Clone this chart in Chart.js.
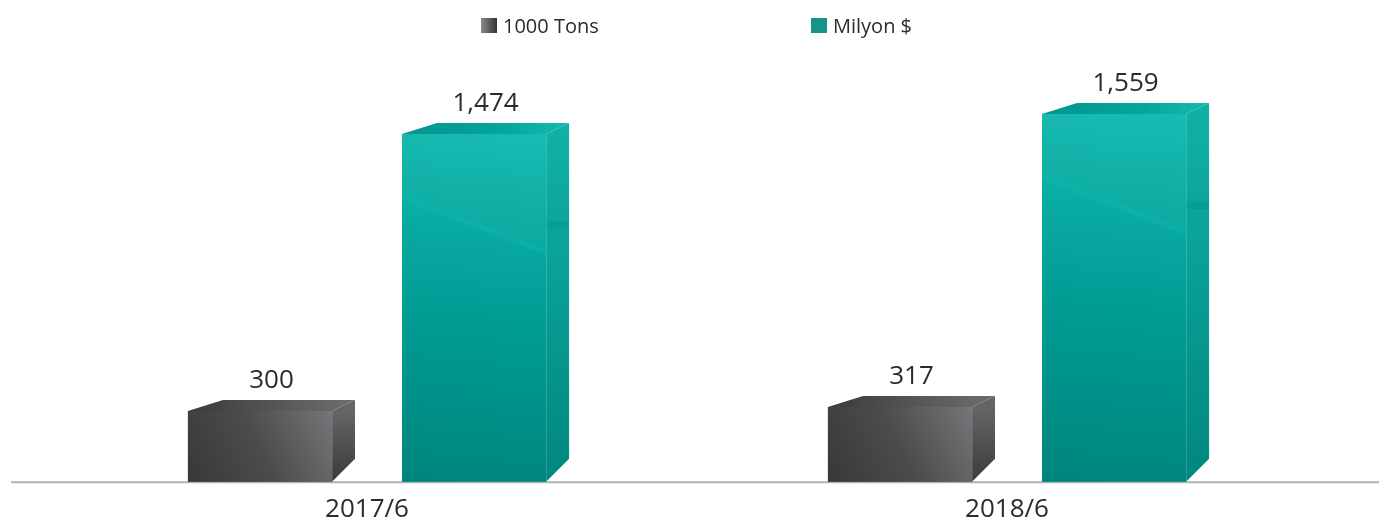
<!DOCTYPE html>
<html>
<head>
<meta charset="utf-8">
<script src="https://cdn.jsdelivr.net/npm/chart.js@4.4.1/dist/chart.umd.min.js"></script>
<style>
  html, body { margin: 0; padding: 0; background: #fff; }
</style>
</head>
<body>
<canvas id="exportChart" width="1379" height="521"></canvas>
<script>
// data
const periods = ["2017/6", "2018/6"];
const seriesLabels = ["1000 Tons", "Milyon $"];
const tonsValues = [300, 317];
const usdValues = [1474, 1559];

// look of each box: front, top and side faces
const palettes = [
  {
    base: "#4a4a4c",
    front: ["#383838", "#4c4c4d", "#76767a"],
    top: ["#3a3a3a", "#5a5a5b", "#6e6e70"],
    side: ["#656567", "#3b3b3b"],
    legend: ["#8a8a8a", "#333333"],
    sheen: false
  },
  {
    base: "#0aa59c",
    front: ["#00857e", "#009d95", "#13b8af"],
    top: ["#00958d", "#05a59c", "#16b9b0"],
    side: ["#10b0a7", "#00877f"],
    legend: ["#16938a", "#16938a"],
    sheen: true
  }
];

const DEPTH_X = 23;      // how far back the box goes to the right
const DEPTH_Y = 11;      // how far up the back edge of the top face sits
const BACK_LEFT = 35;    // left back corner of the top face
const SIDE_DROP = 23;    // bottom of the side face rises by this much
const FONT = "'Open Sans', 'Noto Sans', sans-serif";
const TEXT_COLOR = "#2b2b2b";

// baseline across the whole width, under the boxes
const baseLine = {
  id: "baseLine",
  beforeDatasetsDraw(chart) {
    const c = chart.ctx;
    const y0 = chart.scales.y.getPixelForValue(0);
    c.save();
    c.strokeStyle = "#b2b2b2";
    c.lineWidth = 2;
    c.beginPath();
    c.moveTo(11, y0 + 0.5);
    c.lineTo(chart.width, y0 + 0.5);
    c.stroke();
    c.restore();
  }
};

// turns each bar into a box and writes its value above
const boxBars = {
  id: "boxBars",
  afterDatasetsDraw(chart) {
    const c = chart.ctx;
    chart.data.datasets.forEach((ds, di) => {
      const pal = palettes[di];
      chart.getDatasetMeta(di).data.forEach((bar, i) => {
        const { x, y, base, width } = bar.getProps(["x", "y", "base", "width"], true);
        const L = x - width / 2;
        const R = x + width / 2;
        const h = base - y;
        c.save();

        // front face
        let g = c.createLinearGradient(L, base, L + width * (pal.sheen ? 0.25 : 1), y);
        g.addColorStop(0, pal.front[0]);
        g.addColorStop(0.5, pal.front[1]);
        g.addColorStop(1, pal.front[2]);
        c.fillStyle = g;
        c.fillRect(L, y, width, h);

        if (pal.sheen && h > 140) {
          c.save();
          c.beginPath();
          c.rect(L, y, width, h);
          c.clip();
          // faint reflection line across the front
          c.fillStyle = "rgba(255,255,255,0.02)";
          c.beginPath();
          c.moveTo(L, y);
          c.lineTo(R, y);
          c.lineTo(R, y + 115);
          c.lineTo(L, y + 60);
          c.closePath();
          c.fill();
          c.strokeStyle = "rgba(20,185,175,0.4)";
          c.lineWidth = 6;
          c.beginPath();
          c.moveTo(L, y + 63);
          c.lineTo(R, y + 118);
          c.stroke();
          c.restore();
        }

        // top face
        g = c.createLinearGradient(L, y, R + DEPTH_X, y);
        g.addColorStop(0, pal.top[0]);
        g.addColorStop(0.6, pal.top[1]);
        g.addColorStop(1, pal.top[2]);
        c.fillStyle = g;
        c.beginPath();
        c.moveTo(L, y);
        c.lineTo(L + BACK_LEFT, y - DEPTH_Y);
        c.lineTo(R + DEPTH_X, y - DEPTH_Y);
        c.lineTo(R, y);
        c.closePath();
        c.fill();

        // side face
        g = c.createLinearGradient(R, y, R, base);
        g.addColorStop(0, pal.side[0]);
        g.addColorStop(1, pal.side[1]);
        c.fillStyle = g;
        c.beginPath();
        c.moveTo(R, y);
        c.lineTo(R + DEPTH_X, y - DEPTH_Y);
        c.lineTo(R + DEPTH_X, base - SIDE_DROP);
        c.lineTo(R, base);
        c.closePath();
        c.fill();

        if (pal.sheen && h > 140) {
          c.fillStyle = "rgba(0,130,122,0.2)";
          c.fillRect(R, y + 87, DEPTH_X, 8);
        }

        // thin edge between front and side
        c.strokeStyle = "rgba(255,255,255,0.12)";
        c.lineWidth = 1;
        c.beginPath();
        c.moveTo(R + 0.5, y);
        c.lineTo(R + 0.5, base);
        c.stroke();

        // value label
        c.fillStyle = TEXT_COLOR;
        c.font = "26px " + FONT;
        c.textAlign = "center";
        c.textBaseline = "alphabetic";
        c.fillText(ds.data[i].toLocaleString("en-US"), x + DEPTH_X / 2, y - 23);
        c.restore();
      });
    });
  }
};

// legend row at the top
const topLegend = {
  id: "topLegend",
  afterDraw(chart) {
    const c = chart.ctx;
    const mid = chart.width / 2;
    const slots = [mid - 208.5, mid + 121.5];
    c.save();
    c.font = "20px " + FONT;
    c.textBaseline = "alphabetic";
    c.textAlign = "left";
    chart.data.datasets.forEach((ds, di) => {
      const pal = palettes[di];
      const bx = slots[di];
      const g = c.createLinearGradient(bx, 0, bx + 16, 0);
      g.addColorStop(0, pal.legend[0]);
      g.addColorStop(1, pal.legend[1]);
      c.fillStyle = g;
      c.fillRect(bx, 18, 16, 15);
      c.fillStyle = TEXT_COLOR;
      c.fillText(ds.label, bx + 22, 33);
    });
    c.restore();
  }
};

new Chart(document.getElementById("exportChart"), {
  type: "bar",
  data: {
    labels: periods,
    datasets: [
      { label: seriesLabels[0], data: tonsValues, backgroundColor: palettes[0].base },
      { label: seriesLabels[1], data: usdValues, backgroundColor: palettes[1].base }
    ]
  },
  options: {
    responsive: false,
    animation: false,
    categoryPercentage: 0.669,
    barPercentage: 0.673,
    layout: { padding: { left: 47, right: 52, top: 50, bottom: -16 } },
    plugins: {
      legend: { display: false },
      tooltip: { enabled: false }
    },
    scales: {
      x: {
        grid: { display: false, drawTicks: false },
        border: { display: false },
        ticks: { color: TEXT_COLOR, font: { family: FONT, size: 26 }, padding: 12 }
      },
      y: { display: false, min: 0, max: 1830 }
    }
  },
  plugins: [baseLine, boxBars, topLegend]
});
</script>
</body>
</html>
